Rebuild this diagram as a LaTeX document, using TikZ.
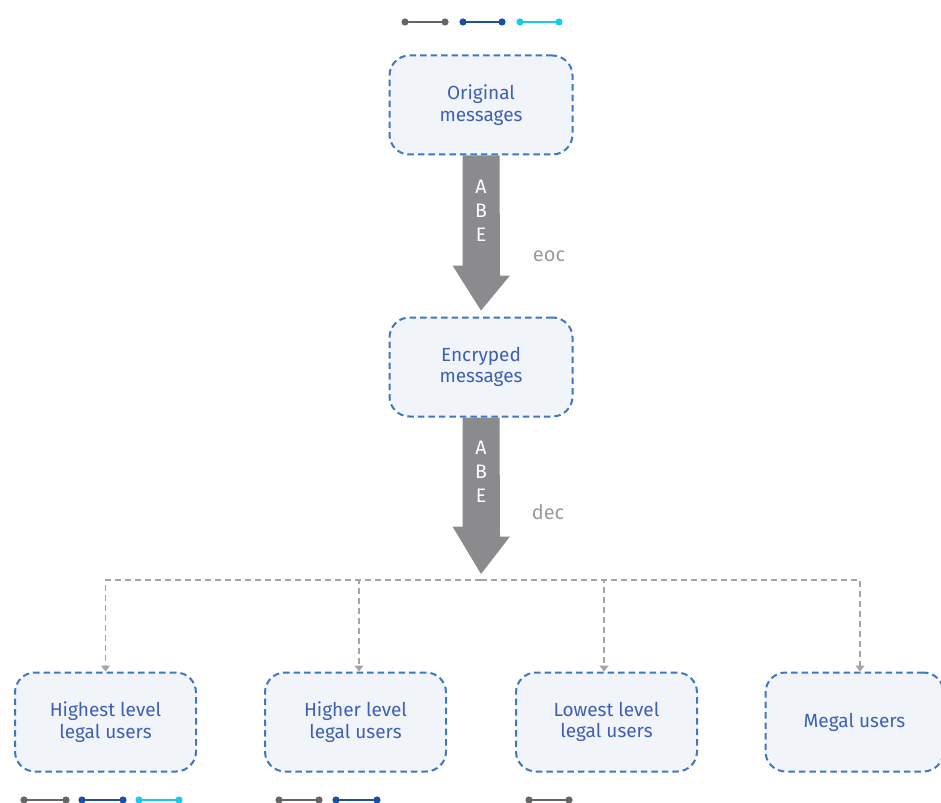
\documentclass[tikz,border=0pt]{standalone}
\usepackage{fontspec}
\setmainfont{Fira Sans}
\usetikzlibrary{arrows.meta,calc}
\definecolor{boxline}{HTML}{3F78C0}
\definecolor{boxfill}{HTML}{F1F5FA}
\definecolor{boxtext}{HTML}{3F5FB2}
\definecolor{flowgray}{HTML}{8B8B8D}
\definecolor{labelgray}{HTML}{9B9B9B}
\definecolor{connline}{HTML}{A5A5A5}
\definecolor{keygray}{HTML}{666666}
\definecolor{keyblue}{HTML}{1D4F9F}
\definecolor{keycyan}{HTML}{1CC9EE}
\tikzset{
  msgbox/.style={draw=boxline, fill=boxfill, line width=2pt,
    dash pattern=on 6.5pt off 4pt, rounded corners=20pt,
    minimum width=183pt, minimum height=99pt, align=center,
    text=boxtext, font=\fontsize{19}{21.5}\selectfont},
  conn/.style={draw=connline, line width=1.7pt, dash pattern=on 6pt off 4pt,
    -{Triangle[width=9pt,length=6pt]}},
  abe/.style={text=white, font=\fontsize{19.5}{24}\selectfont, align=center},
  steplabel/.style={text=labelgray, font=\fontsize{20}{22}\selectfont},
  keyseg/.style={line width=2pt},
  keydot/.style={radius=3.6pt}
}
% key: a short bar with round dots at both ends
\newcommand{\keybar}[3]{%
  \draw[keyseg,#1] (#2) -- (#3);
  \fill[#1] (#2) circle[keydot] (#3) circle[keydot];}
\begin{document}
\begin{tikzpicture}[x=1pt,y=-1pt]
\useasboundingbox (0,0) rectangle (941,802);

% message boxes
\node[msgbox] (orig) at (481,105) {Original\\messages};
\node[msgbox] (enc)  at (481,367) {Encryped\\messages};

% user boxes
\node[msgbox, minimum width=181pt] (u1) at (105.5,722) {Highest level\\legal users};
\node[msgbox, minimum width=181pt] (u2) at (355.5,722) {Higher level\\legal users};
\node[msgbox, minimum width=181pt] (u3) at (606.5,722) {Lowest level\\legal users};
\node[msgbox, minimum width=178pt] (u4) at (854.5,722) {Megal users};

% broad flow arrows
\fill[flowgray] ([xshift=-18.5pt]orig.south) -- ++(0,110) -- ++(-10,0)
  -- ($(enc.north)+(0,-6)$) -- ($(orig.south)+(29,120)$)
  -- ++(-10,0) -- ([xshift=18.5pt]orig.south) -- cycle;
\fill[flowgray] ([xshift=-18.5pt]enc.south) -- ++(0,109) -- ++(-10,0)
  -- (481,574) coordinate (split) -- ($(enc.south)+(29,119)$)
  -- ++(-10,0) -- ([xshift=18.5pt]enc.south) -- cycle;
\node[abe] (abe1) at (481,211) {A\\B\\E};
\node[abe] (abe2) at (481,472) {A\\B\\E};
\node[steplabel] (eoc) at (549,256) {eoc};
\node[steplabel] (dec) at (548,512) {dec};

% distribution to users
\coordinate (bus) at (481,580);
\draw[conn] (bus) -| (u1.north);
\draw[conn] (bus) -| ([xshift=3.5pt]u2.north);
\draw[conn] (bus) -| ([xshift=-2.5pt]u3.north);
\draw[conn] (bus) -| ([xshift=5.5pt]u4.north);

% keys
\keybar{keygray}{405,22}{445,22}
\keybar{keyblue}{463,22}{502,22}
\keybar{keycyan}{520,22}{559,22}

\keybar{keygray}{24,800}{66,800}
\keybar{keyblue}{82,800}{123,800}
\keybar{keycyan}{139,800}{179,800}

\keybar{keygray}{279,800}{319,800}
\keybar{keyblue}{336,800}{377,800}

\keybar{keygray}{529,800}{569,800}
\end{tikzpicture}
\end{document}
